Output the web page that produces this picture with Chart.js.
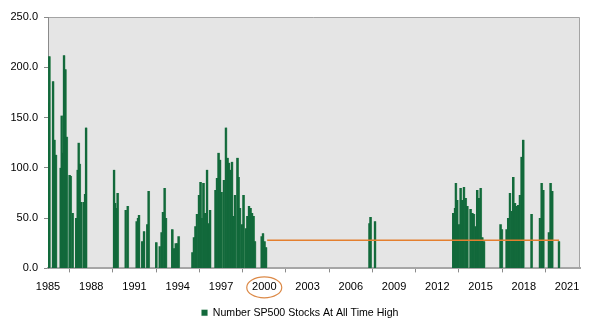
<!DOCTYPE html>
<html>
<head>
<meta charset="utf-8">
<script src="https://cdn.jsdelivr.net/npm/chart.js@4.4.1/dist/chart.umd.min.js"></script>
<style>
    html, body { margin: 0; padding: 0; background: #fff; }
</style>
</head>
<body>
<canvas id="chart" width="597" height="336"></canvas>
<script>
const years1985 = [1985.02, 1985.09, 1985.35, 1985.44, 1985.55, 1985.88, 1985.95, 1986.02, 1986.11, 1986.20, 1986.30,
    1986.50, 1986.57, 1986.71, 1986.96, 1987.06, 1987.13, 1987.20, 1987.31, 1987.50, 1987.57, 1987.64];
const counts1985 = [165, 211, 186, 128, 113, 100, 152, 115, 212, 198, 131,
    93, 92, 55, 50, 98, 125, 104, 66, 66, 74, 140];

const years1989 = [1989.58, 1989.65, 1989.76, 1989.83, 1990.39, 1990.53, 1991.15, 1991.24, 1991.31, 1991.54, 1991.66, 1991.89,
    1991.98, 1992.51, 1992.75, 1992.88, 1992.97, 1993.09, 1993.18, 1993.62, 1993.74, 1993.86, 1993.97, 1994.06];
const counts1989 = [98, 65, 60, 75, 58, 62, 47, 50, 53, 27, 37, 44,
    77, 26, 22, 36, 56, 80, 50, 39, 20, 25, 25, 32];

const years1995 = [1995.02, 1995.12, 1995.23, 1995.33, 1995.47, 1995.58, 1995.66, 1995.78, 1995.89, 1996.03,
    1996.13, 1996.24, 1996.62, 1996.72, 1996.83, 1996.93, 1997.03, 1997.20, 1997.34, 1997.45,
    1997.55, 1997.66, 1997.76, 1997.85, 1997.97, 1998.14, 1998.21, 1998.31, 1998.45, 1998.56,
    1998.73, 1998.83, 1998.94, 1999.04, 1999.15, 1999.25, 1999.35, 1999.82, 1999.91, 2000.01, 2000.12];
const counts1995 = [16, 31, 42, 54, 73, 86, 50, 85, 55, 98,
    45, 58, 78, 90, 115, 108, 76, 88, 140, 110,
    105, 98, 106, 52, 73, 110, 91, 60, 44, 73,
    40, 52, 62, 60, 55, 52, 27, 32, 35, 27, 21];

const years2007 = [2007.30, 2007.37, 2007.68];
const counts2007 = [45, 51, 47];

const years2013 = [2013.11, 2013.23, 2013.29, 2013.38, 2013.50, 2013.62, 2013.73, 2013.85, 2013.97,
    2014.08, 2014.31, 2014.43, 2014.54, 2014.66, 2014.77, 2014.89, 2015.01, 2015.12, 2015.24,
    2016.39, 2016.48, 2016.81, 2016.92, 2017.04, 2017.16, 2017.27, 2017.39, 2017.50, 2017.62, 2017.73, 2017.85, 2017.96,
    2018.54, 2019.12, 2019.24, 2019.35, 2019.74, 2019.86, 2019.97, 2020.44];
const counts2013 = [55, 60, 85, 68, 44, 80, 68, 81, 70,
    62, 59, 55, 54, 42, 78, 70, 80, 31, 27,
    44, 39, 39, 50, 75, 57, 91, 65, 62, 63, 73, 111, 128,
    54, 50, 85, 78, 36, 85, 77, 27];

const xTicks = [1985, 1988, 1991, 1994, 1997, 2000, 2003, 2006, 2009, 2012, 2015, 2018, 2021];
const yTicks = [0, 50, 100, 150, 200, 250];

// orange marker line and the circled year
const refLineYears = [2000.2, 2020.45];
const refLineLevel = 28;
const circledYear = 2000;

const seriesLabel = "Number SP500 Stocks At All Time High";
const fontFamily = "'Liberation Sans', Arial, sans-serif";

const toPoints = (xs, ys) => xs.map((x, i) => ({ x, y: ys[i] }));
const barPoints = [].concat(
    toPoints(years1985, counts1985),
    toPoints(years1989, counts1989),
    toPoints(years1995, counts1995),
    toPoints(years2007, counts2007),
    toPoints(years2013, counts2013)
);

const plotFrame = {
    id: "plotFrame",
    afterLayout(chart) {
        // legend sits a little right of the canvas centre in the original
        chart.legend.left += 10;
        chart.legend.right += 10;
    },
    beforeDraw(chart) {
        const { ctx, chartArea: a } = chart;
        ctx.save();
        ctx.fillStyle = "#fff";
        ctx.fillRect(0, 0, chart.width, chart.height);
        ctx.fillStyle = "#e5e5e5";
        ctx.fillRect(a.left, a.top, a.right - a.left, a.bottom - a.top);
        ctx.strokeStyle = "#a4a4a4";
        ctx.lineWidth = 1;
        ctx.beginPath();
        ctx.moveTo(a.left, a.top + 0.5);
        ctx.lineTo(a.right - 0.5, a.top + 0.5);
        ctx.lineTo(a.right - 0.5, a.bottom);
        ctx.stroke();
        ctx.restore();
    },
    afterDraw(chart) {
        const { ctx, chartArea: a } = chart;
        const cx = chart.scales.x.getPixelForValue(circledYear);
        ctx.save();
        ctx.strokeStyle = "#dc8a48";
        ctx.lineWidth = 1.2;
        ctx.beginPath();
        ctx.ellipse(cx, a.bottom + 19, 17.5, 10.5, 0, 0, Math.PI * 2);
        ctx.stroke();
        ctx.restore();
    },
};

new Chart(document.getElementById("chart"), {
    type: "bar",
    data: {
        datasets: [
            {
                type: "bar",
                label: seriesLabel,
                data: barPoints,
                backgroundColor: "#12693b",
                borderColor: "#5c9d72",
                borderWidth: { left: 0, right: 0.6, top: 0, bottom: 0 },
                borderSkipped: false,
                barThickness: 2.5,
                order: 2,
            },
            {
                type: "line",
                label: "level",
                data: refLineYears.map(x => ({ x, y: refLineLevel })),
                borderColor: "#e47f2e",
                borderWidth: 1.5,
                pointRadius: 0,
                order: 1,
            },
        ],
    },
    options: {
        responsive: false,
        animation: false,
        layout: { padding: { left: 0, right: 17, top: 17, bottom: 8 } },
        plugins: {
            tooltip: { enabled: false },
            legend: {
                position: "bottom",
                labels: {
                    boxWidth: 6,
                    boxHeight: 6,
                    padding: 10,
                    color: "#000",
                    font: { size: 10.6, family: fontFamily },
                    filter: item => item.datasetIndex === 0,
                },
            },
        },
        scales: {
            x: {
                type: "linear",
                min: 1985,
                max: 2021.9,
                offset: false,
                afterBuildTicks: s => { s.ticks = xTicks.map(v => ({ value: v })); },
                afterFit: s => { s.height = 29; },
                ticks: {
                    autoSkip: false,
                    maxRotation: 0,
                    padding: 8,
                    color: "#000",
                    font: { size: 11, family: fontFamily },
                    callback: v => String(v),
                },
                grid: { drawOnChartArea: false, tickLength: 4, color: "#8a8a8a" },
                border: { color: "#a6a6a6", width: 2 },
            },
            y: {
                min: 0,
                max: 250,
                afterBuildTicks: s => { s.ticks = yTicks.map(v => ({ value: v })); },
                afterFit: s => { s.width = 48; },
                ticks: {
                    padding: 6,
                    color: "#000",
                    font: { size: 11, family: fontFamily },
                    callback: v => v.toFixed(1),
                },
                grid: { drawOnChartArea: false, tickLength: 4, color: "#8a8a8a" },
                border: { color: "#8a8a8a", width: 1 },
            },
        },
    },
    plugins: [plotFrame],
});
</script>
</body>
</html>
